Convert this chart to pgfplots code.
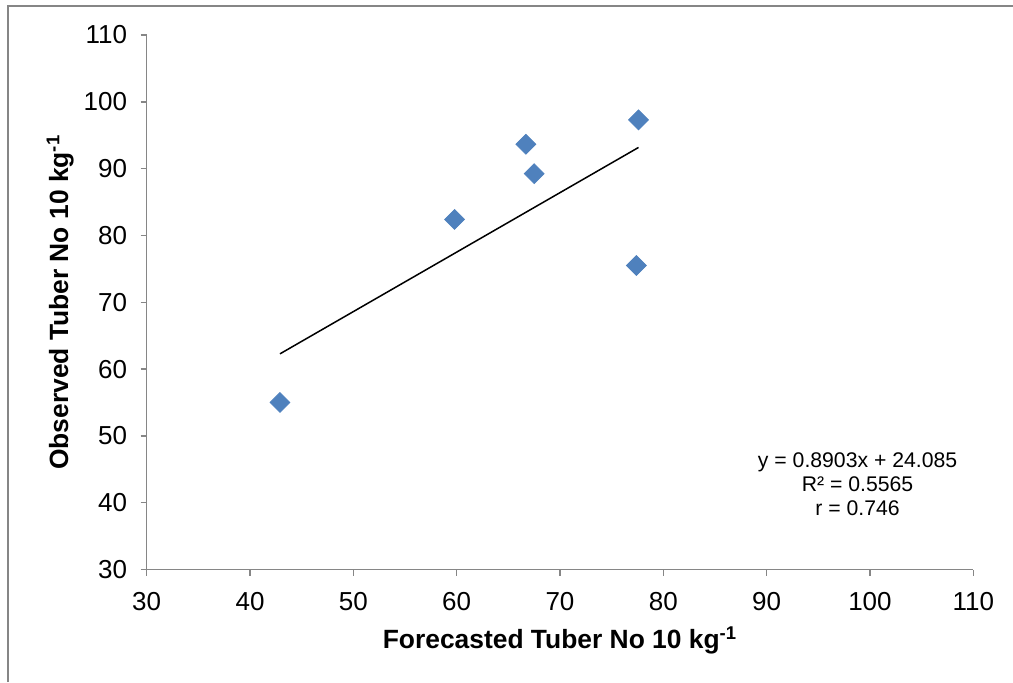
\documentclass[border=0pt]{standalone}
\usepackage{fontspec}
\setmainfont{Liberation Sans}
\usepackage{pgfplots}
\pgfplotsset{compat=1.18}
\definecolor{xlblue}{HTML}{4F81BD}
\definecolor{axgray}{HTML}{868686}

\begin{document}
\begin{tikzpicture}[x=1pt,y=1pt]
% page: 1013x682 px at 0.5pt per px
\path[use as bounding box] (0,0) rectangle (506.5,341);
\draw[axgray, line width=0.8pt] (4,0) -- (4,338) -- (506.5,338);
\begin{axis}[
  at={(73.35pt,56.25pt)}, anchor=south west,
  scale only axis, width=413.3pt, height=267.25pt,
  xmin=30, xmax=110, ymin=30, ymax=110,
  xtick={30,40,...,110}, ytick={30,40,...,110},
  axis x line*=bottom, axis y line*=left,
  axis line style={axgray, line width=0.75pt},
  tick style={axgray, line width=0.75pt},
  tick align=outside, major tick length=3pt,
  /pgf/number format/assume math mode=true,
  tick label style={font=\fontsize{13}{15}\selectfont, inner sep=0pt},
  xticklabel style={anchor=north, yshift=-8.1pt},
  yticklabel style={anchor=east, xshift=-6.6pt},
  label style={font=\bfseries\fontsize{13.2}{15}\selectfont},
  xlabel={Forecasted Tuber No 10 kg\textsuperscript{-1}},
  ylabel={Observed Tuber No 10 kg\textsuperscript{-1}},
  xlabel style={at={([yshift=-39.25pt]axis description cs:0.5,0)}, anchor=base},
  ylabel style={at={([xshift=-39.3pt]axis description cs:0,0.5)}, anchor=base},
  clip=false,
]
\addplot[only marks, mark=square*, mark size=3.5pt,
  mark options={rotate=45, fill=xlblue, draw=xlblue}] coordinates {
  (42.9,55.0) (59.8,82.4) (66.7,93.65) (67.5,89.25) (77.6,97.3) (77.4,75.5)
};
% linear trendline y = 0.8903x + 24.085
\addplot[black, line width=0.75pt] coordinates {(42.9,62.28) (77.6,93.17)};
\node[align=center, font=\fontsize{10.6}{12}\selectfont]
  at (axis cs:98.8,42.8) {y = 0.8903x + 24.085\\R² = 0.5565\\r = 0.746};
\end{axis}
\end{tikzpicture}
\end{document}
